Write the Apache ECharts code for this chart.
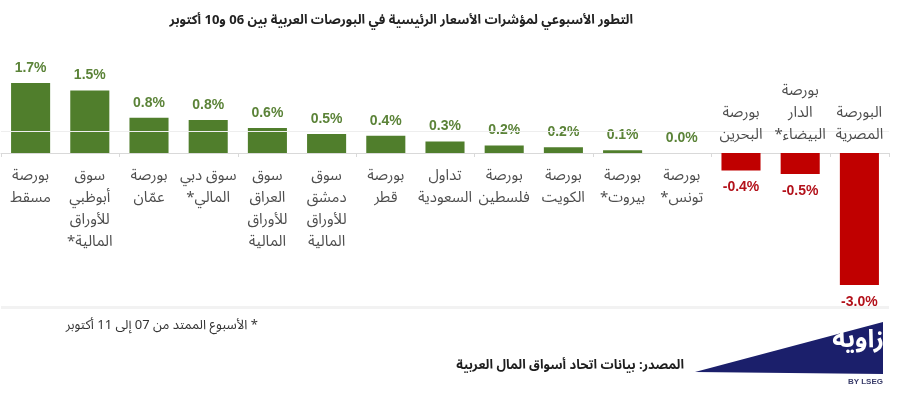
<!DOCTYPE html>
<html>
<head>
<meta charset="utf-8">
<script src="https://cdn.jsdelivr.net/npm/echarts@6/dist/echarts.min.js"></script>
<style>
html,body{margin:0;padding:0;background:#fff;}
#chart{width:900px;height:397px;}
</style>
</head>
<body>
<div id="chart"></div>
<script>
const RLM = '\u200F';
const categories = [
  'بورصة\nمسقط',
  'سوق\nأبوظبي\nللأوراق\nالمالية*' + RLM,
  'بورصة\nعمّان',
  'سوق دبي\nالمالي*' + RLM,
  'سوق\nالعراق\nللأوراق\nالمالية',
  'سوق\nدمشق\nللأوراق\nالمالية',
  'بورصة\nقطر',
  'تداول\nالسعودية',
  'بورصة\nفلسطين',
  'بورصة\nالكويت',
  'بورصة\nبيروت*' + RLM,
  'بورصة\nتونس*' + RLM,
  'بورصة\nالبحرين',
  'بورصة\nالدار\nالبيضاء*' + RLM,
  'البورصة\nالمصرية'
];
const values = [1.59, 1.42, 0.80, 0.75, 0.57, 0.43, 0.39, 0.26, 0.17, 0.13, 0.06, 0.0, -0.40, -0.48, -3.0];
const valueLabels = ['1.7%','1.5%','0.8%','0.8%','0.6%','0.5%','0.4%','0.3%','0.2%','0.2%','0.1%','0.0%','-0.4%','-0.5%','-3.0%'];
const titleText = 'التطور الأسبوعي لمؤشرات الأسعار الرئيسية في البورصات العربية بين 06 و10 أكتوبر';
const footnoteText = RLM + '* الأسبوع الممتد من 07 إلى 11 أكتوبر';
const sourceText = 'المصدر: بيانات اتحاد أسواق المال العربية';

const GREEN = '#507e2c', GREEN_LABEL = '#5b8338';
const RED = '#c00000', RED_LABEL = '#b3121b';
const AR_FONT = "'Noto Sans Arabic','DejaVu Sans',sans-serif";
const NUM_FONT = "'Liberation Sans','Arial',sans-serif";

const chart = echarts.init(document.getElementById('chart'), null, {renderer:'canvas'});
chart.setOption({
  animation: false,
  backgroundColor: '#ffffff',
  title: {
    text: titleText,
    right: 262, top: 11,
    textStyle: {fontFamily: AR_FONT, fontSize: 13, fontWeight: 'bold', color: '#222'}
  },
  grid: {left: 1, right: 11, top: 65, bottom: 90, containLabel: false},
  xAxis: {
    type: 'category',
    data: categories,
    axisLine: {show: true, onZero: true, lineStyle: {color: '#d9d9d9', width: 1}},
    axisTick: {show: true, alignWithLabel: false, length: 4, lineStyle: {color: '#d9d9d9'}},
    axisLabel: {show: false},
    splitLine: {show: false}
  },
  yAxis: {
    type: 'value', min: -3.5, max: 2,
    show: false, splitLine: {show: false}
  },
  series: [{
    type: 'line',
    data: [],
    z: 1,
    silent: true,
    markLine: {
      silent: true, symbol: 'none', label: {show: false},
      lineStyle: {color: '#eeeeee', width: 1, type: 'solid'},
      data: [{yAxis: 0.5}, {yAxis: -3.5, lineStyle: {color: '#f2f2f2', width: 3}}]
    }
  }, {
    type: 'bar',
    z: 2,
    barCategoryGap: '34%',
    data: values.map((v, i) => ({
      value: v,
      itemStyle: {color: v < 0 ? RED : GREEN},
      label: {
        show: true,
        position: v < 0 ? 'bottom' : 'top',
        distance: v < 0 ? 10 : 8,
        color: v < 0 ? RED_LABEL : GREEN_LABEL,
        formatter: () => valueLabels[i]
      }
    })),
    label: {fontFamily: NUM_FONT, fontSize: 14, fontWeight: 'bold'}
  }, {
    type: 'scatter',
    z: 5,
    silent: true,
    symbolSize: 0,
    data: categories.map((c, i) => ({
      name: c,
      value: [i, 0],
      label: {
        show: true,
        position: values[i] < 0 ? 'top' : 'bottom',
        distance: values[i] < 0 ? 5 : 14
      }
    })),
    label: {
      formatter: '{b}', fontFamily: AR_FONT, fontSize: 15, lineHeight: 22,
      color: '#222', align: 'center'
    }
  }],
  graphic: [
    {type: 'text', right: 900 - 258, top: 321,
     style: {text: footnoteText, font: "13px " + AR_FONT, fill: '#333'}},
    {type: 'text', right: 900 - 684, top: 361,
     style: {text: sourceText, font: "bold 13px " + AR_FONT, fill: '#1e1e1e'}},
    {type: 'polygon', shape: {points: [[695, 372], [883, 322], [883, 374]]},
     style: {fill: '#1b1f6b'}},
    {type: 'text', right: 900 - 884, top: 331,
     style: {text: 'زاوية', font: "bold 25px " + AR_FONT, fill: '#ffffff'}},
    {type: 'text', right: 900 - 883, top: 378,
     style: {text: 'BY LSEG', font: "bold 8px " + NUM_FONT, fill: '#3a3d6a'}}
  ]
});
</script>
</body>
</html>
